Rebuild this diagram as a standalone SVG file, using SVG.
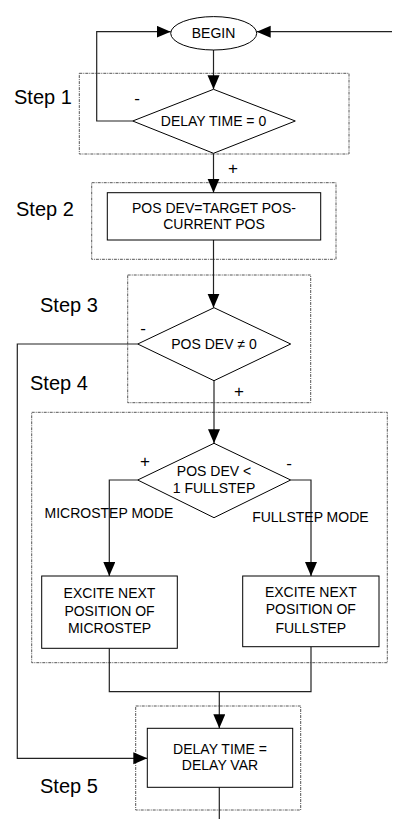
<svg xmlns="http://www.w3.org/2000/svg" width="395" height="819" viewBox="0 0 395 819">
<style>
text{font-family:"Liberation Sans",Arial,sans-serif;font-weight:400;fill:#000}
.n{font-size:14px;text-anchor:middle}
.s{font-size:20px}
.l{font-size:17px;text-anchor:middle}
.shape{fill:#fff;stroke:#000;stroke-width:1}
.box{fill:none;stroke:#555;stroke-width:1;stroke-dasharray:3 1 1 1}
.c{fill:none;stroke:#222;stroke-width:1.2}
</style>
<defs>
<marker id="ah" markerUnits="userSpaceOnUse" markerWidth="15" markerHeight="13" refX="14" refY="6" orient="auto">
<path d="M0,0 L14,6 L0,12 z" fill="#000"/>
</marker>
</defs>
<g id="steps">
<rect class="box" x="79.3" y="73.3" width="269.7" height="80.7"/>
<rect class="box" x="91.7" y="182.7" width="244.3" height="76.6"/>
<rect class="box" x="127.7" y="275" width="183" height="127.7"/>
<rect class="box" x="31.7" y="412.3" width="355.6" height="250.4"/>
<rect class="box" x="135.7" y="706" width="165" height="104"/>
<text class="s" x="14" y="104">Step 1</text>
<text class="s" x="16" y="216">Step 2</text>
<text class="s" x="40" y="312">Step 3</text>
<text class="s" x="30" y="390">Step 4</text>
<text class="s" x="40" y="793">Step 5</text>
</g>
<g id="connectors">
<path class="c" d="M213.5,50 V89.3" marker-end="url(#ah)"/>
<path class="c" d="M132.7,121 H96.7 V31.7 H170.7" marker-end="url(#ah)"/>
<path class="c" d="M392,31.7 H256.7" marker-end="url(#ah)"/>
<path class="c" d="M213.5,153.3 V192.7" marker-end="url(#ah)"/>
<path class="c" d="M213.5,240 V307.7" marker-end="url(#ah)"/>
<path class="c" d="M137.7,344 H17.3 V758.3 H147.3" marker-end="url(#ah)"/>
<path class="c" d="M214,380.7 V443.3" marker-end="url(#ah)"/>
<path class="c" d="M137.7,480 H109.3 V576" marker-end="url(#ah)"/>
<path class="c" d="M290.7,480 H311 V576" marker-end="url(#ah)"/>
<path class="c" d="M109.3,648.3 V691.7 H311 V646.7"/>
<path class="c" d="M219.3,691.7 V728.3" marker-end="url(#ah)"/>
<path class="c" d="M219.3,787.3 V819"/>
<text class="l" x="137" y="103.5">-</text>
<text class="l" x="233" y="174">+</text>
<text class="l" x="143" y="333.5">-</text>
<text class="l" x="239" y="397">+</text>
<text class="l" x="145" y="467">+</text>
<text class="l" x="289" y="469">-</text>
<text class="n" x="109" y="518.3">MICROSTEP MODE</text>
<text class="n" x="310.4" y="521.7">FULLSTEP MODE</text>
</g>
<g id="begin">
<ellipse class="shape" cx="213.7" cy="33.3" rx="43" ry="16.7"/>
<text class="n" x="213.5" y="38">BEGIN</text>
</g>
<g id="step1">
<polygon class="shape" points="213.5,89.3 295.3,121 213.5,153.3 132.7,121"/>
<text class="n" x="213.5" y="126">DELAY TIME = 0</text>
</g>
<g id="step2">
<rect class="shape" x="107.3" y="192.7" width="213.4" height="47.3"/>
<text class="n" x="214" y="212.5">POS DEV=TARGET POS-</text>
<text class="n" x="214" y="229">CURRENT POS</text>
</g>
<g id="step3">
<polygon class="shape" points="214,307.7 290.7,344 214,380.7 137.7,344"/>
<text class="n" x="214" y="349">POS DEV ≠ 0</text>
</g>
<g id="step4">
<polygon class="shape" points="214,443.3 290.7,480 214,517.7 137.7,480"/>
<text class="n" x="214" y="475.7">POS DEV &lt;</text>
<text class="n" x="214" y="492.7">1 FULLSTEP</text>
</g>
<g id="micro">
<rect class="shape" x="41.7" y="576" width="135.6" height="72.3"/>
<text class="n" x="109.5" y="598.3">EXCITE NEXT</text>
<text class="n" x="109.5" y="615.7">POSITION OF</text>
<text class="n" x="109.5" y="633.3">MICROSTEP</text>
</g>
<g id="full">
<rect class="shape" x="242.7" y="576" width="136.3" height="70.7"/>
<text class="n" x="310.8" y="597.3">EXCITE NEXT</text>
<text class="n" x="310.8" y="614.3">POSITION OF</text>
<text class="n" x="310.8" y="632.7">FULLSTEP</text>
</g>
<g id="step5">
<rect class="shape" x="147.3" y="728.3" width="145.4" height="59"/>
<text class="n" x="220" y="754">DELAY TIME =</text>
<text class="n" x="220" y="770">DELAY VAR</text>
</g>
</svg>
